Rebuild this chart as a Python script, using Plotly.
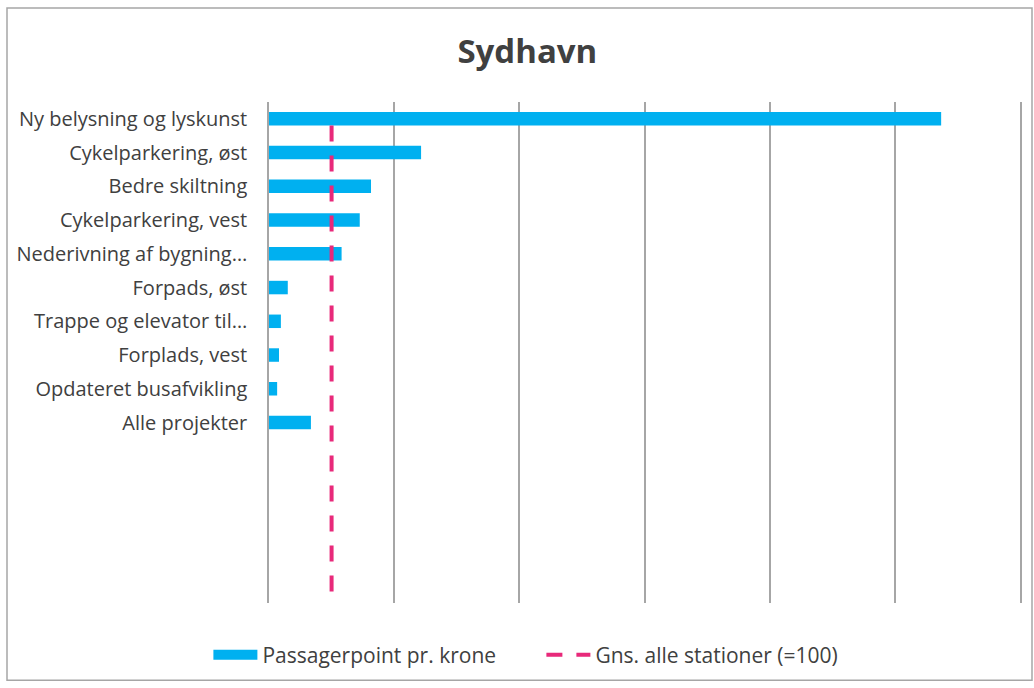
import plotly.graph_objects as go

categories = ["Ny belysning og lyskunst", "Cykelparkering, øst", "Bedre skiltning",
              "Cykelparkering, vest", "Nederivning af bygning…", "Forpads, øst",
              "Trappe og elevator til…", "Forplads, vest", "Opdateret busafvikling",
              "Alle projekter"]
values = [1074, 243, 163, 145, 116, 30, 19, 16, 13, 67]
avg_value = 100
slot_end = 14.35   # empty category slots below the last bar

W, H = 1034, 688
ml, mr, mt, mb = 269, 14, 102, 80
pw, ph = W - ml - mr, H - mt - mb

BLUE = "#00B0F0"
PINK = "#E8297A"
GRID = "#A6A6A6"
TEXT = "#404040"

idx = list(range(len(categories)))
fig = go.Figure()
fig.add_trace(go.Bar(
    x=values, y=idx, orientation="h", width=0.4,
    marker=dict(color=BLUE, line=dict(width=0)),
    name="Passagerpoint pr. krone", showlegend=False))
# legend-only entry shaped like the wide rectangle swatch
fig.add_trace(go.Scatter(
    x=[None], y=[None], mode="lines", line=dict(color=BLUE, width=12),
    name="Passagerpoint pr. krone"))
fig.add_trace(go.Scatter(
    x=[avg_value, avg_value], y=[0.2, slot_end - 0.3], mode="lines",
    line=dict(color=PINK, width=4, dash="16px,14px"),
    name="Gns. alle stationer (=100)"))

font = "'Open Sans', sans-serif"
fig.update_layout(
    width=W, height=H, autosize=False,
    margin=dict(l=ml, r=mr, t=mt, b=mb),
    paper_bgcolor="white", plot_bgcolor="white",
    title=dict(text="<b>Sydhavn</b>", x=0.51, xanchor="center", y=0.925, yanchor="middle",
               font=dict(family=font, size=33, color=TEXT)),
    font=dict(family=font, size=20, color=TEXT),
    xaxis=dict(range=[0, 1200], dtick=200, showticklabels=False, showgrid=True,
               gridcolor=GRID, gridwidth=1.5, zeroline=False, showline=False),
    yaxis=dict(range=[slot_end, -0.5], tickvals=idx, ticktext=categories,
               showgrid=False, zeroline=False, showline=True, mirror=True,
               linecolor=GRID, linewidth=1.5, ticks="",
               ticklabelstandoff=16, tickfont=dict(size=20, color=TEXT)),
    showlegend=True,
    legend=dict(orientation="h", x=-0.0807, xanchor="left", y=-0.104, yanchor="middle",
                font=dict(size=21, color=TEXT), itemwidth=44, tracegroupgap=0,
                entrywidth=274, entrywidthmode="pixels"),
    shapes=[dict(type="rect", xref="paper", yref="paper",
                 x0=-(ml - 7) / pw, x1=1 + (mr - 2) / pw,
                 y0=-(mb - 2) / ph, y1=1 + (mt - 7) / ph,
                 line=dict(color=GRID, width=1.5), fillcolor="rgba(0,0,0,0)",
                 layer="below")],
)
fig.write_html("out.html", config={"displayModeBar": False},
               post_script="document.body.style.margin='0px';")
